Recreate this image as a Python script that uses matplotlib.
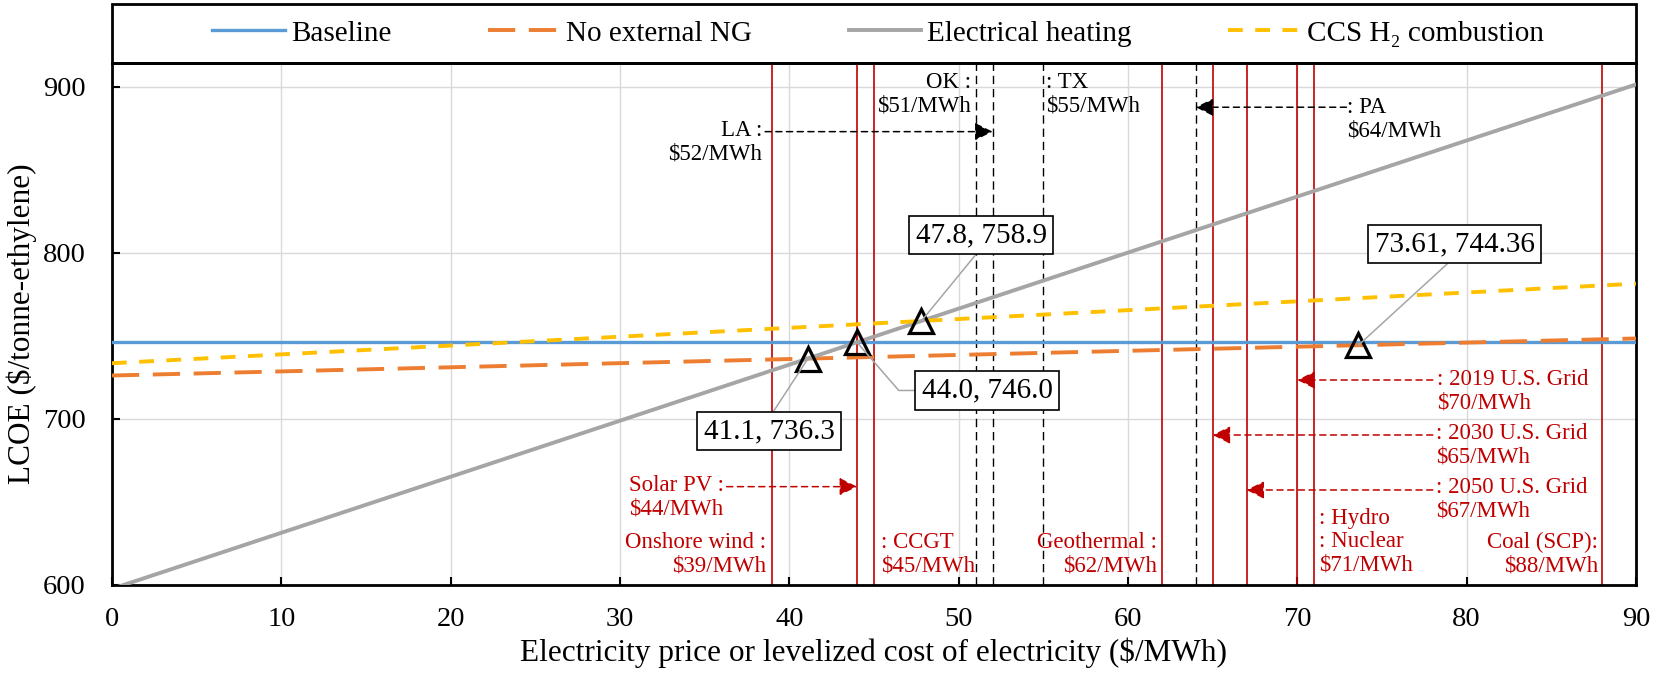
import matplotlib
matplotlib.use("Agg")
import matplotlib.pyplot as plt
from matplotlib.patches import Rectangle

# ---------------- data ----------------
x_ends = [0, 90]
baseline_y = [746.0, 746.0]
no_ext_ng_y = [726.1, 748.4]
elec_heat_y = [597.7, 901.3]
ccs_h2_y = [733.5, 781.4]

series_names = ["Baseline", "No external NG", "Electrical heating", "CCS H\u2082 combustion"]

intersect_x = [41.1, 44.0, 47.8, 73.61]
intersect_y = [736.3, 746.0, 758.9, 744.36]
intersect_labels = ["41.1, 736.3", "44.0, 746.0", "47.8, 758.9", "73.61, 744.36"]

lcoe_lines = [39, 44, 45, 62, 65, 67, 70, 71, 88]          # red solid
state_price_lines = [51, 52, 55, 64]                       # black dashed

x_ticks = [0, 10, 20, 30, 40, 50, 60, 70, 80, 90]
y_ticks = [600, 700, 800, 900]

# ---------------- style ----------------
plt.rcParams['font.family'] = ['Liberation Serif', 'DejaVu Serif']
RED = '#C00000'
W, H = 1654, 676
fig = plt.figure(figsize=(W / 100, H / 100), dpi=100)
ax_l, ax_r, ax_b, ax_t = 112 / W, 1636 / W, 1 - 585 / H, 1 - 62.7 / H
ax = fig.add_axes([ax_l, ax_b, ax_r - ax_l, ax_t - ax_b])

ax.set_xlim(0, 90)
ax.set_ylim(600, 914.4)
ax.set_xticks(x_ticks)
ax.set_yticks(y_ticks)
ax.grid(True, color='#D9D9D9', lw=1.0, zorder=0)
ax.set_axisbelow(True)
ax.tick_params(direction='in', length=6, width=1.5, labelsize=20.5)
ax.tick_params(axis='x', pad=16)
ax.tick_params(axis='y', pad=19)
for s in ax.spines.values():
    s.set_linewidth(2.0)
    s.set_color('black')

ax.set_xlabel("Electricity price or levelized cost of electricity ($/MWh)", fontsize=22.5, labelpad=4)
ax.set_ylabel("LCOE ($/tonne-ethylene)", fontsize=22.5, labelpad=4)

# vertical reference lines
for v in lcoe_lines:
    ax.axvline(v, color=RED, lw=1.2, zorder=2)
for v in state_price_lines:
    ax.axvline(v, color='black', lw=1.0, dashes=(6, 3.5), zorder=2)

# series
l1, = ax.plot(x_ends, baseline_y, color='#5B9BD5', lw=2.4, zorder=4, label=series_names[0])
l2, = ax.plot(x_ends, no_ext_ng_y, color='#ED7D31', lw=2.8, dashes=(7, 3.5), zorder=4, label=series_names[1])
l3, = ax.plot(x_ends, elec_heat_y, color='#A5A5A5', lw=2.8, zorder=4, label=series_names[2])
l4, = ax.plot(x_ends, ccs_h2_y, color='#FFC000', lw=2.8, dashes=(3.8, 3.2), zorder=4, label=series_names[3])

ax.plot(intersect_x, intersect_y, ls='none', marker='^', ms=17, mfc='none',
        mec='black', mew=2.3, zorder=6)

# callout boxes
box_pos = [(38.81, 692.7), (51.68, 717.1), (51.33, 810.7), (79.30, 805.3)]
rel = [(0.5, 1), (0, 0.5), (0.5, 0), (0.5, 0)]
conn = ["arc3", "angle,angleA=0,angleB=-49,rad=0", "arc3", "arc3"]
for lab, px, py, bp, rp, cs in zip(intersect_labels, intersect_x, intersect_y, box_pos, rel, conn):
    ax.annotate(lab, xy=(px, py), xytext=bp, textcoords='data', ha='center', va='center',
                fontsize=21, zorder=7, annotation_clip=False,
                bbox=dict(boxstyle='square,pad=0.22', fc='white', ec='black', lw=1.2),
                arrowprops=dict(arrowstyle='-', color='#A5A5A5', lw=1.1, shrinkA=0, shrinkB=0,
                                relpos=rp, connectionstyle=cs))

# text labels
TS = 16.5
def txt(x, y, s, ha, color):
    ax.text(x, y, s, ha=ha, va='center', fontsize=TS, color=color, linespacing=1.15, zorder=5)

def arrow(x0, x1, y, color):
    ax.annotate("", xy=(x1, y), xytext=(x0, y),
                arrowprops=dict(arrowstyle='-|>,head_length=0.6,head_width=0.3', color=color,
                                lw=1.1, linestyle=(0, (4, 3)), shrinkA=0, shrinkB=0,
                                mutation_scale=18), zorder=5)

txt(30.51, 653.0, "Solar PV :\n$44/MWh", 'left', RED)
arrow(36.3, lcoe_lines[1], 659.2, RED)
txt(38.63, 618.4, "Onshore wind :\n$39/MWh", 'right', RED)
txt(45.42, 618.4, ": CCGT\n$45/MWh", 'left', RED)
txt(61.70, 618.4, "Geothermal :\n$62/MWh", 'right', RED)
txt(71.29, 626.2, ": Hydro\n: Nuclear\n$71/MWh", 'left', RED)
txt(87.77, 618.4, "Coal (SCP):\n$88/MWh", 'right', RED)
txt(78.26, 716.8, ": 2019 U.S. Grid\n$70/MWh", 'left', RED)
arrow(78.0, lcoe_lines[6], 723.4, RED)
txt(78.20, 684.3, ": 2030 U.S. Grid\n$65/MWh", 'left', RED)
arrow(78.0, lcoe_lines[4], 690.3, RED)
txt(78.20, 651.5, ": 2050 U.S. Grid\n$67/MWh", 'left', RED)
arrow(78.0, lcoe_lines[5], 657.2, RED)

txt(38.39, 866.4, "LA :\n$52/MWh", 'right', 'black')
arrow(38.57, state_price_lines[1], 872.9, 'black')
txt(50.71, 895.4, "OK :\n$51/MWh", 'right', 'black')
txt(55.17, 895.4, ": TX\n$55/MWh", 'left', 'black')
txt(72.92, 880.4, ": PA\n$64/MWh", 'left', 'black')
arrow(72.9, state_price_lines[3], 887.6, 'black')

# legend box on top
fig.patches.append(Rectangle((ax_l, ax_t), ax_r - ax_l, (1 - 4 / H) - ax_t, transform=fig.transFigure,
                             fill=False, ec='black', lw=2.0, zorder=10))
fig.legend(handles=[l1, l2, l3, l4], loc='center', bbox_to_anchor=(0.5308, 1 - 33.4 / H), ncol=4,
           frameon=False, fontsize=21, handlelength=2.5, handletextpad=0.2, columnspacing=3.3)

fig.savefig("out.png", dpi=100)
